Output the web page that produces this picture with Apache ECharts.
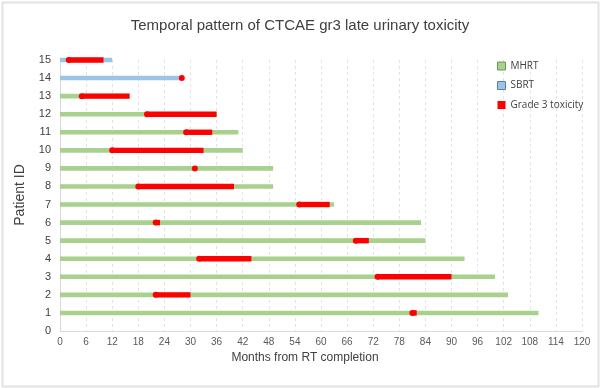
<!DOCTYPE html>
<html>
<head>
<meta charset="utf-8">
<script src="https://cdn.jsdelivr.net/npm/echarts@6/dist/echarts.min.js"></script>
<style>html,body{margin:0;padding:0;background:#fff}#c{width:600px;height:388px}</style>
</head>
<body>
<div id="c"></div>
<script>
// Data
const patientIds = [1, 2, 3, 4, 5, 6, 7, 8, 9, 10, 11, 12, 13, 14, 15];
const treatment = ['MHRT','MHRT','MHRT','MHRT','MHRT','MHRT','MHRT','MHRT','MHRT','MHRT','MHRT','MHRT','MHRT','SBRT','SBRT'];
const followUp = [110, 103, 100, 93, 84, 83, 63, 49, 49, 42, 41, 36, 16, 28, 12];
const toxStart = [81, 22, 73, 32, 68, 22, 55, 18, 31, 12, 29, 20, 5, 28, 2];
const toxEnd   = [82, 30, 90, 44, 71, 23, 62, 40, 31, 33, 35, 36, 16, 28, 10];
const xTicks = {min: 0, max: 120, interval: 6};
const yTicks = {min: 0, max: 15, interval: 1};

const colors = {MHRT: '#a9d18e', SBRT: '#9dc3e6', tox: '#ff0000'};

const mhrtData = [], sbrtData = [], toxData = [];
patientIds.forEach((id, i) => {
  (treatment[i] === 'MHRT' ? mhrtData : sbrtData).push([followUp[i], id]);
  toxData.push([toxStart[i], id, toxEnd[i]]);
});

function barItem(color) {
  return function (params, api) {
    const s = api.coord([0, api.value(1)]);
    const e = api.coord([api.value(0), api.value(1)]);
    const h = 4.6;
    return {type: 'rect', shape: {x: s[0], y: s[1] - h / 2, width: e[0] - s[0], height: h}, style: {fill: color}};
  };
}
function toxItem(params, api) {
  const s = api.coord([api.value(0), api.value(1)]);
  const e = api.coord([api.value(2), api.value(1)]);
  const h = 5.4;
  return {type: 'group', children: [
    {type: 'rect', shape: {x: s[0], y: s[1] - h / 2, width: Math.max(e[0] - s[0], 0), height: h}, style: {fill: colors.tox}},
    {type: 'circle', shape: {cx: s[0], cy: s[1], r: 3}, style: {fill: colors.tox}}
  ]};
}

const chart = echarts.init(document.getElementById('c'), null, {renderer: 'canvas'});
chart.setOption({
  animation: false,
  backgroundColor: '#fff',
  title: {
    text: 'Temporal pattern of CTCAE gr3 late urinary toxicity',
    left: 'center', top: 13,
    textStyle: {fontFamily: 'Liberation Sans, Arial', fontSize: 15, fontWeight: 'normal', color: '#404040'}
  },
  legend: {
    orient: 'vertical', left: 492, top: 56, itemGap: 9.5,
    itemWidth: 8, itemHeight: 8,
    textStyle: {fontFamily: 'Open Sans, Liberation Sans', fontSize: 10, color: '#404040'},
    data: [
      {name: 'MHRT', icon: 'rect', itemStyle: {color: colors.MHRT, borderColor: '#6a9a4f', borderWidth: 1}},
      {name: 'SBRT', icon: 'rect', itemStyle: {color: colors.SBRT, borderColor: '#5b7fa8', borderWidth: 1}},
      {name: 'Grade 3 toxicity', icon: 'rect', itemStyle: {color: colors.tox, borderWidth: 0}}
    ]
  },
  grid: {left: 60, right: 18, top: 60, bottom: 57, containLabel: false},
  xAxis: {
    type: 'value', min: xTicks.min, max: xTicks.max, interval: xTicks.interval,
    axisLine: {show: true, lineStyle: {color: '#d9d9d9'}},
    axisTick: {show: false},
    axisLabel: {fontFamily: 'Liberation Sans, Arial', fontSize: 10, color: '#595959', margin: 6},
    splitLine: {show: true, lineStyle: {color: '#e3e3e3', type: [3, 3]}}
  },
  yAxis: {
    type: 'value', min: yTicks.min, max: yTicks.max, interval: yTicks.interval,
    axisLine: {show: true, lineStyle: {color: '#d9d9d9'}},
    axisTick: {show: false},
    axisLabel: {fontFamily: 'Liberation Sans, Arial', fontSize: 11, color: '#404040', margin: 9},
    splitLine: {show: false}
  },
  graphic: [
    {type: 'rect', left: 0, top: 0, z: -1, shape: {x: 1, y: 1, width: 596, height: 384}, style: {fill: 'none', stroke: '#e2e2e2', lineWidth: 2}},
    {type: 'text', x: 20, y: 195, rotation: Math.PI / 2, style: {text: 'Patient ID', fontFamily: 'Liberation Sans, Arial', fontSize: 14, fill: '#404040', textAlign: 'center', textVerticalAlign: 'middle'}},
    {type: 'text', x: 305, y: 358, style: {text: 'Months from RT completion', fontFamily: 'Liberation Sans, Arial', fontSize: 12, fill: '#404040', textAlign: 'center', textVerticalAlign: 'middle'}}
  ],
  series: [
    {name: 'MHRT', type: 'custom', renderItem: barItem(colors.MHRT), data: mhrtData, encode: {x: 0, y: 1}, itemStyle: {color: colors.MHRT}, z: 2},
    {name: 'SBRT', type: 'custom', renderItem: barItem(colors.SBRT), data: sbrtData, encode: {x: 0, y: 1}, itemStyle: {color: colors.SBRT}, z: 2},
    {name: 'Grade 3 toxicity', type: 'custom', renderItem: toxItem, data: toxData, encode: {x: [0, 2], y: 1}, itemStyle: {color: colors.tox}, z: 3}
  ]
});
</script>
</body>
</html>
